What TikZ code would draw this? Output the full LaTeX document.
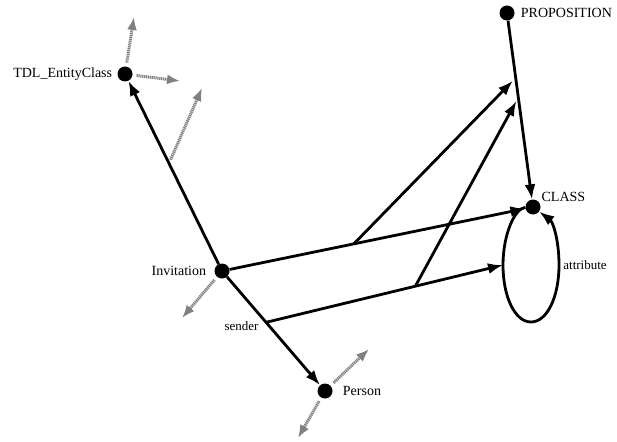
\documentclass[tikz,border=0pt]{standalone}
\usepackage{fontspec}
\setmainfont{Liberation Serif}
\usetikzlibrary{arrows.meta}

\begin{document}
\begin{tikzpicture}[x=1pt, y=-1pt, >={Latex[length=15pt,width=11pt]},
  dot/.style={circle, fill=black, inner sep=0pt, minimum width=13pt, minimum height=15pt},
  rel/.style={->, line width=2.8pt},
  hatch/.style={-{Latex[length=13pt,width=10pt]}, draw=gray, line width=3pt,
    dash pattern=on 1.2pt off 0.7pt, shorten <=4pt},
  txt/.style={font=\fontsize{14}{16}\selectfont, inner sep=0pt},
  small/.style={font=\fontsize{13}{15}\selectfont, inner sep=0pt},
  every label/.style={txt}]
\useasboundingbox (0,0) rectangle (617,441);

\node[dot, label={[label distance=5pt]left:TDL\_EntityClass}] (tdl) at (125,74) {};
\node[dot, label={[label distance=6pt]right:PROPOSITION}] (prop) at (507,13) {};
\node[dot, label={[anchor=west, xshift=3pt, yshift=5pt]north east:CLASS}] (cls) at (533,207) {};
\node[dot, label={[label distance=8pt]left:Invitation}] (inv) at (222,271) {};
\node[dot, label={[label distance=10pt]right:Person}] (per) at (325,391) {};

\coordinate (att) at (503,265);
\coordinate (tdl-up) at (134,17);
\coordinate (tdl-rt) at (180,81);
\coordinate (tdl-x) at (202,88);
\coordinate (inv-dl) at (182,318);
\coordinate (per-ur) at (369,349);
\coordinate (per-dl) at (298,438);

% links between the classes
\draw[rel] (prop) -- coordinate[pos=.32](q1) coordinate[pos=.43](q2) (cls);
\draw[rel] (inv) -- coordinate[pos=.55](e3) (tdl);
\draw[rel] (inv) -- coordinate[pos=.42](m1) (cls);
\draw[rel] (inv) -- node[small, pos=.45, left=9pt](snd){sender} coordinate[pos=.42](s0) (per);

% the attribute loop on CLASS
\draw[rel] (cls) .. controls (515,208) and (503,234) .. (att)
  .. controls (503,297) and (515,322) .. (531,322)
  .. controls (547,322) and (559,297) .. (559,265) node[small, right=3pt](attr){attribute}
  .. controls (559,240) and (553,222) .. (cls);

\draw[rel] (s0) -- coordinate[pos=.63](s1) (att);
\draw[rel, shorten >=4pt] (m1) -- (q1);
\draw[rel, shorten >=4pt] (s1) -- (q2);

% grey hatched links
\draw[hatch] (tdl) -- (tdl-up);
\draw[hatch] (tdl) -- (tdl-rt);
\draw[hatch] (e3) -- (tdl-x);
\draw[hatch] (inv) -- (inv-dl);
\draw[hatch] (per) -- (per-ur);
\draw[hatch] (per) -- (per-dl);
\end{tikzpicture}
\end{document}
